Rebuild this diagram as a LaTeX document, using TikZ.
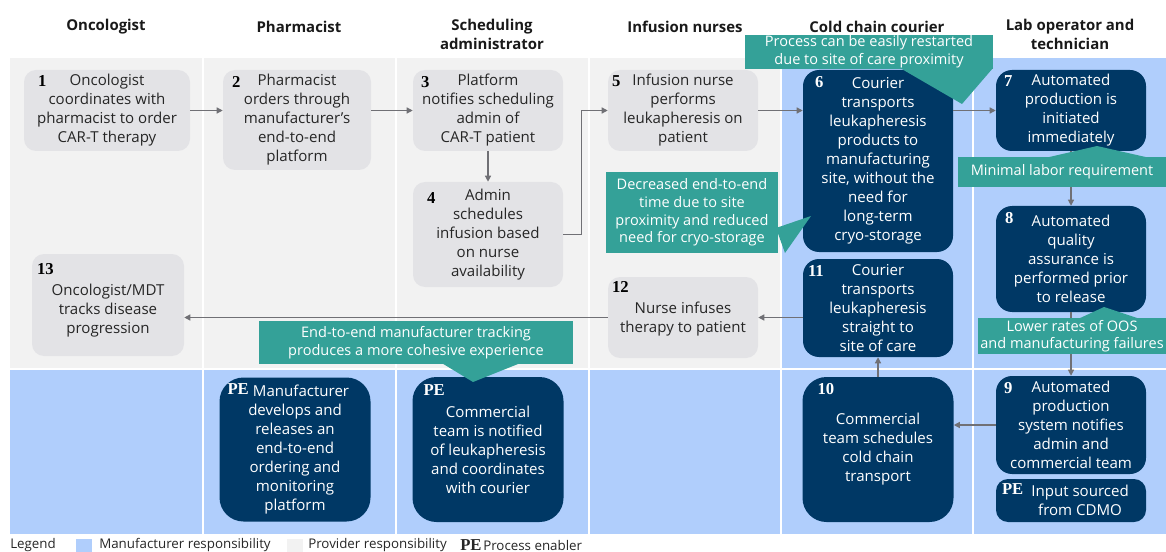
\documentclass[tikz,border=0pt]{standalone}
\usepackage{fontspec}
\setmainfont{Open Sans}
\newfontfamily\numfont{Liberation Serif}
\usetikzlibrary{arrows.meta, calc}

\definecolor{provider}{RGB}{242,242,242}
\definecolor{maker}{RGB}{176,206,252}
\definecolor{stepgray}{RGB}{227,227,230}
\definecolor{navy}{RGB}{0,56,101}
\definecolor{callteal}{RGB}{52,161,152}
\definecolor{flowgray}{RGB}{112,112,117}

\begin{document}
\begin{tikzpicture}[
    x=0.75pt, y=-0.75pt, % one unit = one pixel of the layout, y downwards
    font=\fontsize{11.3}{14.25}\selectfont,
    % Step boxes
    provider step/.style={
        fill=stepgray, % Light gray fill
        text=black!85,
        rounded corners=9pt,
        align=center,
        inner sep=0pt
      },
    maker step/.style={
        fill=navy, % Dark blue fill
        text=white,
        rounded corners=12pt,
        align=center,
        inner sep=0pt
      },
    box size/.style 2 args={minimum width=#1*0.75pt, minimum height=#2*0.75pt},
    % Step numbers and process enablers
    stepno/.style={font=\numfont\bfseries\fontsize{12.5}{14}\selectfont, anchor=north west, inner sep=0pt},
    % Arrows between steps
    flow/.style={draw=flowgray, line width=0.9pt, -{Triangle[length=4.5pt,width=4.5pt]}},
    % Teal remarks
    callout/.style={fill=callteal, text=white, align=center, inner sep=0pt,
        font=\fontsize{10.9}{13.2}\selectfont},
    lane head/.style={font=\bfseries\fontsize{11.2}{14.25}\selectfont, align=center, text=black!90},
    legend text/.style={anchor=west, inner sep=0pt, font=\fontsize{10}{12}\selectfont, text=black!85}
  ]

  \useasboundingbox (0,0) rectangle (1166,552);

  % Lanes: provider (gray) and manufacturer (blue)
  \foreach \xa/\xb in {10/202, 204/395, 397/588, 590/780}
    \fill[provider] (\xa,58) rectangle (\xb,368);
  \foreach \xa/\xb in {782/972, 974/1166}
    \fill[maker] (\xa,58) rectangle (\xb,368);
  \foreach \xa/\xb in {10/202, 204/395, 397/588, 590/780, 782/972, 974/1166}
    \fill[maker] (\xa,370) rectangle (\xb,534);

  % Lane headings
  \node[lane head] (h1) at (106,27) {Oncologist};
  \node[lane head] (h2) at (299,27) {Pharmacist};
  \node[lane head] (h3) at (492,34.5) {Scheduling\\administrator};
  \node[lane head] (h4) at (685,27) {Infusion nurses};
  \node[lane head] (h5) at (877,27) {Cold chain courier};
  \node[lane head] (h6) at (1070,34.5) {Lab operator and\\technician};

  % Steps
  \node[provider step, box size={166}{81}] (s1) at (107,110.5) {Oncologist\\coordinates with\\pharmacist to order\\CAR-T therapy};
  \node[provider step, box size={148}{100}] (s2) at (297,120) {Pharmacist\\orders through\\manufacturer's\\end-to-end\\platform};
  \node[provider step, box size={150}{81}] (s3) at (488,110.5) {Platform\\notifies scheduling\\admin of\\CAR-T patient};
  \node[provider step, box size={150}{105}] (s4) at (488,234.5) {Admin\\schedules\\infusion based\\on nurse\\availability};
  \node[provider step, box size={150}{81}] (s5) at (683,110.5) {Infusion nurse\\performs\\leukapheresis on\\patient};
  \node[maker step, box size={150}{182}] (s6) at (878,161) {Courier\\transports\\leukapheresis\\products to\\manufacturing\\site, without the\\need for\\long-term\\cryo-storage};
  \node[maker step, box size={150}{81}] (s7) at (1071,110.5) {Automated\\production is\\initiated\\immediately};
  \node[maker step, box size={150}{106}] (s8) at (1071,259) {Automated\\quality\\assurance is\\performed prior\\to release};
  \node[maker step, box size={150}{98}] (s9) at (1071,425) {Automated\\production\\system notifies\\admin and\\commercial team};
  \node[maker step, rounded corners=9pt, box size={150}{43}] (cdmo) at (1071,500.5) {\hspace*{1.2em}Input sourced\\\hspace*{1.2em}from CDMO};
  \node[maker step, rounded corners=18pt, box size={151}{145}] (s10) at (878,449.5) {Commercial\\team schedules\\cold chain\\transport};
  \node[maker step, box size={150}{98}] (s11) at (878,308) {Courier\\transports\\leukapheresis\\straight to\\site of care};
  \node[provider step, box size={150}{81}] (s12) at (683,317.5) {\\[-4pt]Nurse infuses\\therapy to patient};
  \node[provider step, box size={152}{102}] (s13) at (108,305) {\\[3pt]Oncologist/MDT\\tracks disease\\progression};
  \node[maker step, rounded corners=18pt, box size={151}{144}] (pe1) at (295,449.5) {\hspace*{0.8em}Manufacturer\\develops and\\releases an\\end-to-end\\ordering and\\monitoring\\platform};
  \node[maker step, rounded corners=18pt, box size={151}{145}] (pe2) at (488,449.5) {Commercial\\team is notified\\of leukapheresis\\and coordinates\\with courier};

  % Numbers
  \node[stepno] (n1) at ([shift={(14,6)}]s1.north west) {1};
  \node[stepno] (n2) at ([shift={(9,6)}]s2.north west) {2};
  \node[stepno] (n3) at ([shift={(8,6)}]s3.north west) {3};
  \node[stepno] (n4) at ([shift={(14,11)}]s4.north west) {4};
  \node[stepno] (n5) at ([shift={(4,6)}]s5.north west) {5};
  \node[stepno, text=white] (n6) at ([shift={(12,6)}]s6.north west) {6};
  \node[stepno, text=white] (n7) at ([shift={(8,6)}]s7.north west) {7};
  \node[stepno, text=white] (n8) at ([shift={(9,6)}]s8.north west) {8};
  \node[stepno, text=white] (n9) at ([shift={(8,6)}]s9.north west) {9};
  \node[stepno, text=white] (n10) at ([shift={(15,6)}]s10.north west) {10};
  \node[stepno, text=white] (n11) at ([shift={(5,6)}]s11.north west) {11};
  \node[stepno] (n12) at ([shift={(4,4)}]s12.north west) {12};
  \node[stepno] (n13) at ([shift={(5,9)}]s13.north west) {13};
  \node[stepno, text=white] (pen1) at ([shift={(8,6)}]pe1.north west) {PE};
  \node[stepno, text=white] (pen2) at ([shift={(11,8)}]pe2.north west) {PE};
  \node[stepno, text=white] (pen3) at ([shift={(6,5)}]cdmo.north west) {PE};

  % Flow
  \draw[flow] (s1) -- (s2.west |- s1);
  \draw[flow] (s2.east |- s3) -- (s3);
  \draw[flow] (s3) -- (s4);
  \draw[flow] (s4.east) -- ++(18,0) |- (s5.west);
  \draw[flow] (s5) -- (s6.west |- s5);
  \draw[flow] (s6.east |- s7) -- (s7);
  \draw[flow] (s7) -- (s8);
  \draw[flow] (s8) -- (s9);
  \draw[flow] (s9) -- (s10.east |- s9);
  \draw[flow] (s10) -- (s11);
  \draw[flow] (s11.west |- s12) -- (s12);
  \draw[flow] (s12) -- (s13.east |- s12);

  % Remarks
  \fill[callteal] (900,68) -- (962,104) -- (993,68) -- cycle;
  \node[callout, box size={248}{34}] (c1) at (869,52) {Process can be easily restarted\\due to site of care proximity};
  \fill[callteal] (1045,158) -- (1097,146) -- (1150,158) -- cycle;
  \node[callout, box size={208}{30}] (c2) at (1062,172) {Minimal labor requirement};
  \fill[callteal] (776,228) -- (811,216) -- (785,253) -- cycle;
  \node[callout, box size={172}{81}] (c3) at (692,212.5) {Decreased end-to-end\\time due to site\\proximity and reduced\\need for cryo-storage};
  \fill[callteal] (1078,319) -- (1104,307) -- (1140,319) -- cycle;
  \node[callout, box size={188}{36}] (c4) at (1072,336) {Lower rates of OOS\\and manufacturing failures};
  \fill[callteal] (440,362) -- (473,382) -- (523,362) -- cycle;
  \node[callout, box size={314}{43}] (c5) at (416,342.5) {End-to-end manufacturer tracking\\produces a more cohesive experience};

  % Legend
  \node[legend text] (legend) at (10,545) {Legend};
  \node[fill=maker, inner sep=0pt, minimum width=12pt, minimum height=11pt] (key1) at (84,546) {};
  \node[legend text] (key1 text) at (99,545) {Manufacturer responsibility};
  \node[fill=provider, inner sep=0pt, minimum width=12pt, minimum height=11pt] (key2) at (295,546) {};
  \node[legend text] (key2 text) at (308,545) {Provider responsibility};
  \node[stepno, anchor=west, text=black!85] (key3) at (460,545) {PE};
  \node[legend text] (key3 text) at (483,545) {Process enabler};

\end{tikzpicture}
\end{document}
